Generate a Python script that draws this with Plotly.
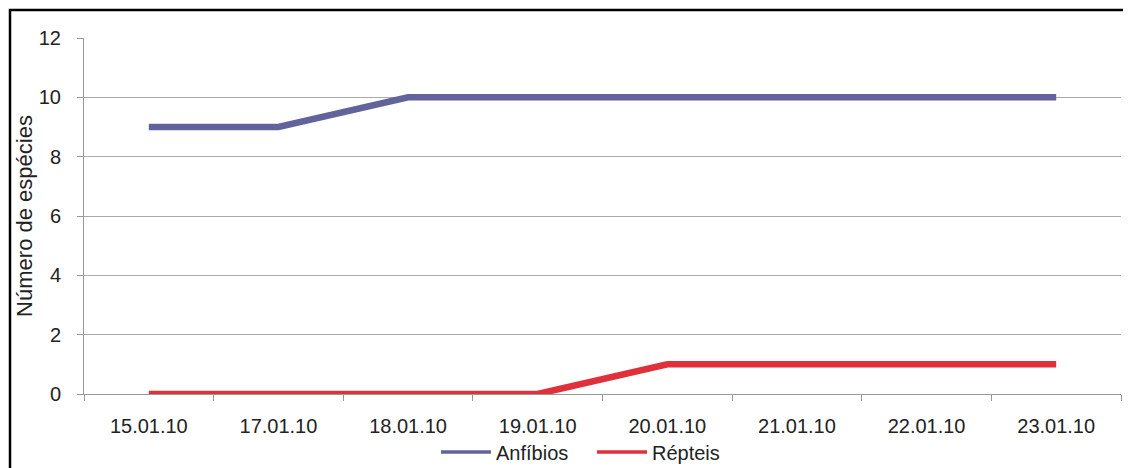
import plotly.graph_objects as go

dates = ["15.01.10", "17.01.10", "18.01.10", "19.01.10", "20.01.10", "21.01.10", "22.01.10", "23.01.10"]
anfibios = [9, 9, 10, 10, 10, 10, 10, 10]
repteis = [0, 0, 0, 0, 1, 1, 1, 1]

series = [("Anfíbios", anfibios, "#63639C"), ("Répteis", repteis, "#E0303A")]

# the page body adds an 8px offset; figure is sized to fill the rest of the window
OFF = 8
W, H = 1131 - OFF, 468 - OFF
L, R, T, B = 84 - OFF, 10, 38 - OFF, 74
pw, ph = W - L - R, H - T - B

fig = go.Figure()
for name, vals, col in series:
    fig.add_trace(go.Scatter(x=dates, y=vals, mode="lines", name=name, showlegend=False,
                             line=dict(color=col, width=6.5)))
# legend entries with thinner keys, as in the reference
for name, vals, col in series:
    fig.add_trace(go.Scatter(x=[None], y=[None], mode="lines", name=name, showlegend=True,
                             line=dict(color=col, width=3.5)))

fig.update_layout(
    width=W, height=H,
    margin=dict(l=L, r=R, t=T, b=B, autoexpand=False),
    paper_bgcolor="white", plot_bgcolor="white",
    font=dict(family="Liberation Sans, Arial", size=20, color="#222"),
    showlegend=True,
    legend=dict(orientation="h", x=(436 - 84) / pw, xanchor="left",
                y=(ph - (452 - OFF - T)) / ph, yanchor="middle",
                font=dict(size=20), traceorder="normal", itemwidth=50,
                entrywidth=91, entrywidthmode="pixels",
                bgcolor="rgba(0,0,0,0)"),
    xaxis=dict(type="category", showgrid=False, showline=True, linecolor="#999", linewidth=1,
               ticks="outside", tickson="boundaries", ticklen=6, tickcolor="#999",
               ticklabelstandoff=14,
               range=[-0.5, 7.5], tickfont=dict(size=20), automargin=False),
    yaxis=dict(range=[0, 12], dtick=2, showgrid=True, gridcolor="#aaa", gridwidth=1,
               showline=True, linecolor="#999", linewidth=1, zeroline=False,
               ticks="outside", ticklen=6, tickcolor="#999", automargin=False,
               ticklabelstandoff=12,
               title=dict(text="Número de espécies", font=dict(size=22), standoff=0),
               tickfont=dict(size=20)),
)

# outer frame
fig.add_shape(type="rect", xref="paper", yref="paper",
              x0=(2 - L) / pw, x1=(W + 20 - L) / pw,
              y0=(T + ph - (H + 20)) / ph, y1=(T + ph - 2) / ph,
              line=dict(color="black", width=2.5), fillcolor="rgba(0,0,0,0)", layer="above")

fig.write_html("out.html")
